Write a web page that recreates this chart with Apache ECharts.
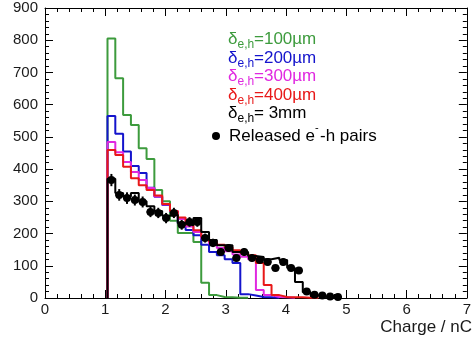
<!DOCTYPE html>
<html><head><meta charset="utf-8">
<script src="https://cdn.jsdelivr.net/npm/echarts@6/dist/echarts.min.js"></script>
<style>html,body{margin:0;padding:0;background:#fff}#c{width:474px;height:339px}</style>
</head><body><div id="c"></div>
<script>
// Histogram binning: 54 bins on [0,7], data start at bin 8
const binWidth = 7 / 54;
const firstBin = 8;

// Bin contents (starting at first filled bin)
const green100 = [805, 682, 568, 537, 465, 431, 335, 300, 240, 202, 202, 174, 47, 9, 3, 2, 1, 1];
const blue200 = [565, 510, 455, 410, 388, 342, 314, 289, 268, 233, 211, 195, 165, 143, 133, 120, 109, 12, 8, 3, 2, 1];
const magenta300 = [484, 452, 422, 391, 366, 341, 315, 290, 270, 245, 222, 205, 185, 168, 155, 145, 135, 128, 120, 25, 9, 3, 2, 1];
const red400 = [459, 444, 407, 372, 350, 335, 318, 292, 270, 250, 228, 210, 190, 175, 165, 158, 148, 140, 133, 109, 40, 9, 3, 2, 2, 1, 1];
const black3mm = [370, 326, 315, 326, 300, 285, 270, 255, 258, 232, 226, 248, 205, 180, 164, 164, 143, 143, 130, 127, 120, 125, 118, 93, 50, 18, 8, 4, 2, 1];
const pairs = [366, 320, 310, 304, 298, 267, 264, 248, 264, 227, 236, 236, 186, 171, 143, 155, 124, 143, 124, 118, 112, 93, 112, 93, 85, 20, 10, 8, 5, 3];
const pairsErr = [19, 18, 18, 17, 17, 16, 16, 16, 16, 15, 15, 15, 14, 13, 12, 12, 11, 12, 11, 11, 11, 10, 11, 10, 9, 4, 3, 3, 2, 2];

const xTickValues = [0, 1, 2, 3, 4, 5, 6, 7];
const yTickValues = [0, 100, 200, 300, 400, 500, 600, 700, 800, 900];

const FONT = '"Liberation Sans", Arial, Helvetica, sans-serif';
const C_GREEN = '#3d9b3d', C_BLUE = '#1414cc', C_MAG = '#e028e0', C_RED = '#e81818', C_BLACK = '#000000';

function edge(i) { return (firstBin + i) * binWidth; }
function stepData(vals) {
  const pts = [[edge(0), 0]];
  vals.forEach((v, i) => pts.push([edge(i), v]));
  pts.push([edge(vals.length), 0]);
  return pts;
}
function histSeries(vals, color) {
  return {
    type: 'line', step: 'end', data: stepData(vals), symbol: 'none',
    lineStyle: { color: color, width: 2 }, animation: false, silent: true
  };
}

const axisCommon = {
  axisLine: { show: true, onZero: false, lineStyle: { color: '#000', width: 1 } },
  axisTick: { show: true, inside: true, length: 8, lineStyle: { color: '#000', width: 1 } },
  minorTick: { show: true, splitNumber: 5, length: 4, lineStyle: { color: '#000', width: 1 } },
  splitLine: { show: false }, minorSplitLine: { show: false }
};

const legendRows = [
  { y: 39, color: C_GREEN, text: '=100µm' },
  { y: 58, color: C_BLUE, text: '=200µm' },
  { y: 76, color: C_MAG, text: '=300µm' },
  { y: 95, color: C_RED, text: '=400µm' },
  { y: 113, color: C_BLACK, text: '= 3mm' }
];
const graphics = [];
legendRows.forEach(r => {
  graphics.push({ type: 'text', x: 228, y: r.y, style: { text: 'δ', fill: r.color, font: '17px ' + FONT, align: 'left', verticalAlign: 'middle' } });
  graphics.push({ type: 'text', x: 237.5, y: r.y + 6, style: { text: 'e,h', fill: r.color, font: '12px ' + FONT, align: 'left', verticalAlign: 'middle' } });
  graphics.push({ type: 'text', x: 254, y: r.y, style: { text: r.text, fill: r.color, font: '17px ' + FONT, align: 'left', verticalAlign: 'middle' } });
});
graphics.push({ type: 'circle', shape: { cx: 216, cy: 136, r: 4 }, style: { fill: '#000' } });
graphics.push({ type: 'text', x: 229, y: 136, style: { text: 'Released e', fill: '#000', font: '17px ' + FONT, align: 'left', verticalAlign: 'middle' } });
graphics.push({ type: 'text', x: 315, y: 128, style: { text: '-', fill: '#000', font: '11px ' + FONT, align: 'left', verticalAlign: 'middle' } });
graphics.push({ type: 'text', x: 320, y: 136, style: { text: '-h pairs', fill: '#000', font: '17px ' + FONT, align: 'left', verticalAlign: 'middle' } });
graphics.push({ type: 'text', x: 472, y: 327, style: { text: 'Charge / nC', fill: '#1a1a1a', font: '17px ' + FONT, align: 'right', verticalAlign: 'middle' } });

const pairData = pairs.map((v, k) => [(firstBin + k + 0.5) * binWidth, v, pairsErr[k]]);

const chart = echarts.init(document.getElementById('c'), null, { renderer: 'canvas' });
chart.setOption({
  animation: false,
  backgroundColor: '#ffffff',
  grid: { left: 45, right: 4, top: 8, bottom: 41, containLabel: false },
  xAxis: [
    Object.assign({}, axisCommon, {
      type: 'value', position: 'bottom', min: xTickValues[0], max: xTickValues[xTickValues.length - 1], interval: 1,
      axisLabel: { show: true, margin: 4, fontSize: 15, color: '#1a1a1a', fontFamily: FONT }
    }),
    Object.assign({}, axisCommon, {
      type: 'value', position: 'top', min: xTickValues[0], max: xTickValues[xTickValues.length - 1], interval: 1,
      axisLabel: { show: false }
    })
  ],
  yAxis: [
    Object.assign({}, axisCommon, {
      type: 'value', position: 'left', min: yTickValues[0], max: yTickValues[yTickValues.length - 1], interval: 100,
      axisLabel: { show: true, margin: 7, fontSize: 15, color: '#1a1a1a', fontFamily: FONT }
    }),
    Object.assign({}, axisCommon, {
      type: 'value', position: 'right', min: yTickValues[0], max: yTickValues[yTickValues.length - 1], interval: 100,
      axisLabel: { show: false }
    })
  ],
  graphic: graphics,
  series: [
    histSeries(green100, C_GREEN),
    histSeries(blue200, C_BLUE),
    histSeries(magenta300, C_MAG),
    histSeries(red400, C_RED),
    histSeries(black3mm, C_BLACK),
    {
      type: 'custom', data: pairData, encode: { x: 0, y: 1 }, animation: false, silent: true, z: 5,
      renderItem: function (params, api) {
        const x = api.value(0), y = api.value(1), e = api.value(2);
        const c = api.coord([x, y]);
        const t = api.coord([x, y + e]);
        const b = api.coord([x, Math.max(y - e, 0)]);
        const l = api.coord([x - binWidth / 2, y]);
        const r = api.coord([x + binWidth / 2, y]);
        return {
          type: 'group', children: [
            { type: 'line', shape: { x1: l[0], y1: l[1], x2: r[0], y2: r[1] }, style: { stroke: '#000', lineWidth: 2 } },
            { type: 'line', shape: { x1: t[0], y1: t[1], x2: b[0], y2: b[1] }, style: { stroke: '#000', lineWidth: 2 } },
            { type: 'circle', shape: { cx: c[0], cy: c[1], r: 4 }, style: { fill: '#000' } }
          ]
        };
      }
    }
  ]
});
</script>
</body></html>
